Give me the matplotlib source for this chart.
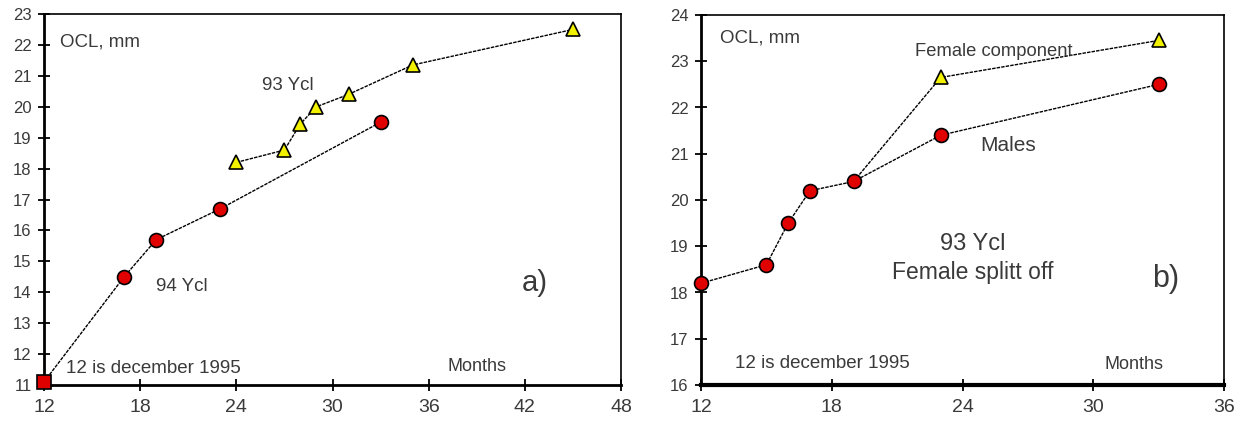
import matplotlib
matplotlib.use("Agg")
import matplotlib.pyplot as plt

# panel a) -- 94 and 93 year classes
a_months_94 = [12, 17, 19, 23, 33]
a_ocl_94 = [11.1, 14.5, 15.7, 16.7, 19.5]
a_months_93 = [24, 27, 28, 29, 31, 35, 45]
a_ocl_93 = [18.2, 18.6, 19.45, 20.0, 20.4, 21.35, 22.5]

# panel b) -- 93 year class, female split off
b_months_m = [12, 15, 16, 17, 19, 23, 33]
b_ocl_m = [18.2, 18.6, 19.5, 20.2, 20.4, 21.4, 22.5]
b_months_f = [19, 23, 33]
b_ocl_f = [20.4, 22.65, 23.45]

a_xticks = [12, 18, 24, 30, 36, 42, 48]
a_yticks = list(range(11, 24))
b_xticks = [12, 18, 24, 30, 36]
b_yticks = list(range(16, 25))

plt.rcParams["font.family"] = ["Liberation Sans", "DejaVu Sans"]
TXT = "#3a3a3a"
RED, YEL = "#e00000", "#f2f200"
LS = (0, (2.5, 0.8))

fig = plt.figure(figsize=(12.51, 4.23), dpi=100)
ax1 = fig.add_axes([44/1251, 1-385/423, (621-44)/1251, (385-14)/423])
ax2 = fig.add_axes([701/1251, 1-385/423, (1224-701)/1251, (385-15)/423])


def style(ax, xt, yt, bottom_w):
    ax.set_xticks(xt)
    ax.set_yticks(yt)
    ax.set_xlim(xt[0], xt[-1])
    ax.set_ylim(yt[0], yt[-1])
    ax.tick_params(direction="inout", length=8, width=1.3, colors="black",
                   labelcolor=TXT, pad=5)
    ax.tick_params(axis="x", labelsize=14, pad=6)
    ax.tick_params(axis="y", labelsize=12)
    for s in ax.spines.values():
        s.set_linewidth(1.2)
    ax.spines["left"].set_linewidth(2)
    ax.spines["bottom"].set_linewidth(bottom_w)


# a)
ax1.plot(a_months_94, a_ocl_94, color="black", lw=1, ls=LS, zorder=2)
ax1.plot(a_months_94[1:], a_ocl_94[1:], "o", ms=10, mfc=RED, mec="black", mew=1.2, zorder=3, clip_on=False)
ax1.plot(a_months_94[:1], a_ocl_94[:1], "s", ms=10, mfc=RED, mec="black", mew=1.2, zorder=3, clip_on=False)
ax1.plot(a_months_93, a_ocl_93, color="black", lw=1, ls=LS, zorder=2)
ax1.plot(a_months_93, a_ocl_93, "^", ms=10, mfc=YEL, mec="black", mew=1.2, zorder=3)
style(ax1, a_xticks, a_yticks, 2)
kw = dict(color=TXT, fontsize=13.5)
ax1.text(13.0, 22.1, "OCL, mm", va="center", ha="left", **kw)
ax1.text(27.2, 20.7, "93 Ycl", va="center", ha="center", **kw)
ax1.text(20.6, 14.17, "94 Ycl", va="center", ha="center", **kw)
ax1.text(13.4, 11.54, "12 is december 1995", va="center", ha="left", **kw)
ax1.text(39.0, 11.6, "Months", va="center", ha="center", color=TXT, fontsize=13)
ax1.text(42.6, 14.3, "a)", va="center", ha="center", color=TXT, fontsize=21)

# b)
ax2.plot(b_months_f, b_ocl_f, color="black", lw=1, ls=LS, zorder=2)
ax2.plot(b_months_f[1:], b_ocl_f[1:], "^", ms=10, mfc=YEL, mec="black", mew=1.2, zorder=3)
ax2.plot(b_months_m, b_ocl_m, color="black", lw=1, ls=LS, zorder=2)
ax2.plot(b_months_m, b_ocl_m, "o", ms=10, mfc=RED, mec="black", mew=1.2, zorder=4, clip_on=False)
style(ax2, b_xticks, b_yticks, 3)
ax2.text(12.87, 23.5, "OCL, mm", va="center", ha="left", **kw)
ax2.text(21.8, 23.2, "Female component", va="center", ha="left", color=TXT, fontsize=13.2)
ax2.text(24.8, 21.18, "Males", va="center", ha="left", color=TXT, fontsize=15)
ax2.text(24.46, 19.05, "93 Ycl", va="center", ha="center", color=TXT, fontsize=17)
ax2.text(24.46, 18.43, "Female splitt off", va="center", ha="center", color=TXT, fontsize=16.5)
ax2.text(33.3, 18.3, "b)", va="center", ha="center", color=TXT, fontsize=22)
ax2.text(13.56, 16.47, "12 is december 1995", va="center", ha="left", **kw)
ax2.text(31.88, 16.45, "Months", va="center", ha="center", color=TXT, fontsize=13)

fig.savefig("out.png", dpi=100)
